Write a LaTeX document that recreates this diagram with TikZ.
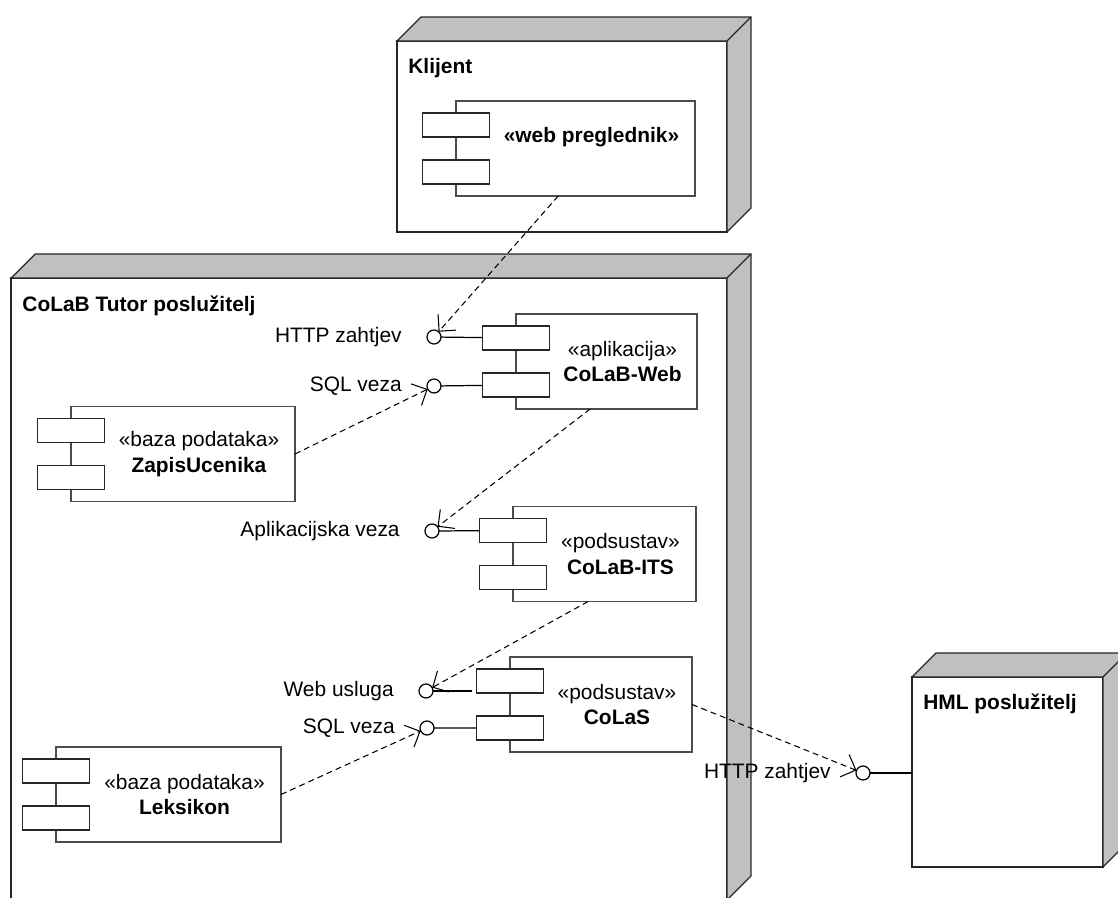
\documentclass[tikz,border=0pt]{standalone}
\usepackage{fontspec}
\setmainfont{Liberation Sans}
\usetikzlibrary{arrows.meta,positioning,calc}
\definecolor{sidegray}{RGB}{192,192,192}
\tikzset{
    deploy node/.style={
        draw=black!85,line width=0.7pt,fill=white,
        inner sep=0pt,outer sep=0pt
    },
    node side/.style={draw=black!85,line width=0.7pt,fill=sidegray},
    comp body/.style={
        draw=black!70,line width=0.7pt,fill=white,
        minimum height=1.9cm,inner sep=0pt,outer sep=0pt
    },
    comp port/.style={
        draw=black!85,line width=0.7pt,fill=white,
        minimum width=1.34cm,minimum height=0.48cm,
        inner sep=0pt,outer sep=0pt
    },
    iface/.style={
        circle,draw=black,line width=0.7pt,fill=white,
        minimum size=2.8mm,inner sep=0pt,outer sep=0pt
    },
    iface label/.style={inner sep=0pt},
    dep/.style={
        draw=black,line width=0.6pt,dash pattern=on 3.4pt off 2.3pt,
        -{Straight Barb[length=2.4mm,width=4.8mm]}
    }
}

\begin{document}
\begin{tikzpicture}[x=0.02cm,y=-0.02cm,font=\fontsize{11.9}{14.7}\selectfont]
\useasboundingbox (0,0) rectangle (1118,898);

% deployment nodes
\foreach \n/\x/\y/\w/\h/\nm in {klijent/562/136.5/6.6/3.82/Klijent,
        tutor/369/589/14.32/12.44/CoLaB Tutor poslužitelj,
        hml/1007.5/772/3.82/3.8/HML poslužitelj}{
    \node[deploy node,minimum width=\w cm,minimum height=\h cm] (\n) at (\x,\y) {};
    \filldraw[node side] (\n.north west) -- ++(24,-24) -- ([shift={(24,-24)}]\n.north east)
        -- ([shift={(24,-24)}]\n.south east) -- (\n.south east) -- (\n.north east) -- cycle;
    \draw[node side] (\n.north east) -- ++(24,-24);
    \node[anchor=north west,inner sep=0pt] (\n-title) at ([shift={(11,17)}]\n.north west) {\textbf{\nm}};
}

% components
\node[comp body,minimum width=4.78cm] (webprg) at (575.5,148.5) {};
\node[comp port] (webprg-a) at ([yshift=4.7mm]webprg.west) {};
\node[comp port] (webprg-b) at ([yshift=-4.7mm]webprg.west) {};
\node[inner sep=0pt] (webprg-text) at ([xshift=3.2mm,yshift=2.3mm]webprg.center) {\textbf{«web preglednik»}};

\foreach \n/\x/\y/\w/\st/\nm in {colabweb/606.5/361.5/3.62/aplikacija/CoLaB-Web,
        colabits/604.5/554/3.66/podsustav/CoLaB-ITS,
        colas/601/704.5/3.64/podsustav/CoLaS,
        zapis/183/454/4.48/baza podataka/ZapisUcenika,
        leksikon/168.5/794.5/4.5/baza podataka/Leksikon}{
    \node[comp body,minimum width=\w cm] (\n) at (\x,\y) {};
    \node[comp port] (\n-a) at ([yshift=4.7mm]\n.west) {};
    \node[comp port] (\n-b) at ([yshift=-4.7mm]\n.west) {};
    \node[align=center,inner sep=0pt] (\n-text) at ([xshift=3.2mm]\n.center) {«\st»\\\textbf{\nm}};
}

% interfaces
\foreach \n/\x/\y in {ifhttpa/434/337, ifsqla/434/386, ifapp/432/531,
        ifweb/426/691, ifsqlb/427/728, ifhttpb/863/773}
    \node[iface] (\n) at (\x,\y) {};

\node[iface label,left=5mm of ifhttpa] (lhttpa) {HTTP zahtjev};
\node[iface label,left=5mm of ifsqla] (lsqla) {SQL veza};
\node[iface label,left=5mm of ifapp] (lapp) {Aplikacijska veza};
\node[iface label,left=5mm of ifweb] (lweb) {Web usluga};
\node[iface label,left=5mm of ifsqlb] (lsqlb) {SQL veza};
\node[iface label,left=5mm of ifhttpb] (lhttpb) {HTTP zahtjev};

\draw[line width=0.7pt] (ifhttpa) -- (colabweb-a);
\draw[line width=0.7pt] (ifsqla) -- (colabweb-b);
\draw[line width=0.7pt] (ifapp) -- (colabits-a);
\draw[line width=0.7pt] (ifweb) -- ([xshift=-1mm]ifweb -| colas-a.west);
\draw[line width=0.7pt] (ifsqlb) -- (colas-b);
\draw[line width=0.7pt] (ifhttpb) -- (ifhttpb -| hml.west);

% dependencies
\draw[dep] (webprg.-110) -- (ifhttpa);
\draw[dep] (zapis.east) -- (ifsqla);
\draw[dep] (colabweb.-109) -- (ifapp);
\draw[dep] (colabits.-109) -- (ifweb);
\draw[dep] (leksikon.east) -- (ifsqlb);
\draw[dep] (colas.east) -- (ifhttpb);
\end{tikzpicture}
\end{document}
